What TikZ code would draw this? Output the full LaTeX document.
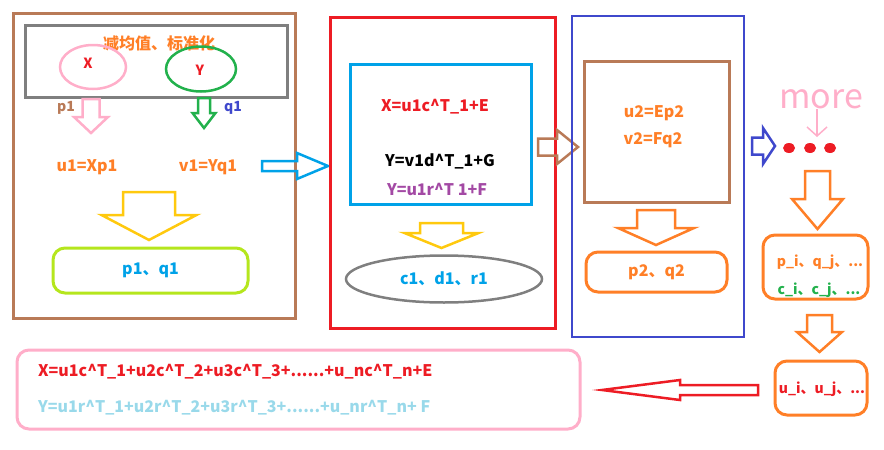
\documentclass[tikz,border=0pt]{standalone}
\usepackage{fontspec}
\setmainfont{Noto Sans CJK SC}
\usetikzlibrary{fit,shapes.geometric,arrows.meta}

\definecolor{brownc}{HTML}{B97A57}
\definecolor{grayc}{HTML}{7F7F7F}
\definecolor{orangec}{HTML}{FF7F27}
\definecolor{pinkc}{HTML}{FFAEC9}
\definecolor{redc}{HTML}{ED1C24}
\definecolor{greenc}{HTML}{22B14C}
\definecolor{indigoc}{HTML}{3F48CC}
\definecolor{cyanc}{HTML}{00A2E8}
\definecolor{goldc}{HTML}{FFC90E}
\definecolor{limec}{HTML}{B5E61D}
\definecolor{purplec}{HTML}{A349A4}
\definecolor{turqc}{HTML}{99D9EA}

\newcommand{\crt}{\textasciicircum}

% hollow arrow pointing down: colour, centre x, top, shaft half width, head y, head half width, tip y
\newcommand{\blockdown}[7]{%
  \draw[hollow, #1] (#2-#4,#3) -- (#2+#4,#3) -- (#2+#4,#5) -- (#2+#6,#5)
    -- (#2,#7) -- (#2-#6,#5) -- (#2-#4,#5) -- cycle;}
% hollow arrow left/right: colour, centre y, start x, shaft half height, head x, head half height, tip x
\newcommand{\blockhoriz}[7]{%
  \draw[hollow, #1] (#3,#2-#4) -- (#5,#2-#4) -- (#5,#2-#6) -- (#7,#2)
    -- (#5,#2+#6) -- (#5,#2+#4) -- (#3,#2+#4) -- cycle;}

\tikzset{
  boxframe/.style={draw, line width=3pt, inner sep=0pt},
  roundframe/.style={boxframe, rounded corners=12pt},
  oval/.style={ellipse, draw, line width=2.5pt, inner sep=0pt},
  hollow/.style={line width=2.5pt, line join=miter},
  lbl/.style={font=\bfseries\fontsize{16}{18}\selectfont, inner sep=1pt},
  smalllbl/.style={font=\bfseries\fontsize{14}{16}\selectfont, inner sep=1pt},
  dotmark/.style={ellipse, fill=redc, minimum width=12pt, minimum height=10pt, inner sep=0pt},
}

\begin{document}
\begin{tikzpicture}[x=1pt, y=-1pt]
  \useasboundingbox (0,0) rectangle (884,450);

  % Stage 1
  \node[boxframe, draw=brownc, fit={(13,13) (295,318)}] (stage1) {};
  \node[boxframe, draw=grayc, fit={(25,25) (287,97)}] (centre) {};
  \node[lbl, text=orangec] (centretitle) at (159,43) {减均值、标准化};
  \node[oval, draw=pinkc, minimum width=66pt, minimum height=44pt] (xoval) at (93,67) {};
  \node[oval, draw=greenc, minimum width=70pt, minimum height=45pt] (yoval) at (201,69) {};
  \node[smalllbl, text=redc] (xlbl) at (88,63) {X};
  \node[smalllbl, text=redc] (ylbl) at (200,70) {Y};
  \node[smalllbl, text=brownc] (p1lbl) at (66,108) {p1};
  \node[smalllbl, text=indigoc] (q1lbl) at (233,108) {q1};
  \blockdown{pinkc}{91}{99}{8.5}{117}{17}{133}
  \blockdown{greenc}{204}{98}{6}{113}{11.5}{128}
  \node[lbl, text=orangec] (u1) at (87,167) {u1=Xp1};
  \node[lbl, text=orangec] (v1) at (208,167) {v1=Yq1};
  \blockdown{goldc}{149}{192}{26}{215}{47.5}{240}
  \node[roundframe, draw=limec, fit={(53,248) (248,293)}] (pqone) {};
  \node[lbl, text=cyanc] at (pqone) {p1、q1};
  \blockhoriz{cyanc}{166}{262}{5}{297}{13}{328}

  % Stage 2
  \node[boxframe, draw=redc, fit={(330,17) (555,328)}] (stage2) {};
  \node[boxframe, draw=cyanc, fit={(350,64) (531,204)}] (eqbox) {};
  \node[lbl, text=redc] (eqx) at (435,107) {X=u1c\crt T\_1+E};
  \node[lbl, text=black] (eqy) at (440,161) {Y=v1d\crt T\_1+G};
  \node[lbl, text=purplec] (eqf) at (437,189) {Y=u1r\crt T 1+F};
  \blockdown{goldc}{441.5}{223}{21.5}{233}{37}{248}
  \node[oval, draw=grayc, minimum width=196pt, minimum height=47pt] (cdr) at (444,279) {};
  \node[lbl, text=cyanc] at (cdr) {c1、d1、r1};
  \blockhoriz{brownc}{147}{538}{8.5}{557}{17}{578}

  % Stage 3
  \node[boxframe, draw=indigoc, line width=2.5pt, fit={(572,16) (744,337)}] (stage3) {};
  \node[boxframe, draw=brownc, fit={(584,61) (729,202)}] (resid) {};
  \node[lbl, text=orangec] (u2) at (654,113) {u2=Ep2};
  \node[lbl, text=orangec] (v2) at (653,140) {v2=Fq2};
  \blockdown{orangec}{656}{210}{19}{228}{38}{245}
  \node[roundframe, draw=orangec, fit={(586,252) (727,292)}] (pqtwo) {};
  \node[lbl, text=orangec] at (pqtwo) {p2、q2};
  \blockhoriz{indigoc}{146}{752}{8.5}{763}{18}{775}

  % More rounds
  \foreach \dx/\n in {789/1,810/2,830/3}
    \node[dotmark] (dot\n) at (\dx,148) {};
  \node[text=pinkc, font=\fontsize{34}{36}\selectfont, inner sep=0pt] (more) at (821,99) {more};
  \coordinate (moretip) at (817,137);
  \draw[pinkc, line width=1.5pt, -{Straight Barb[length=9pt,width=20pt]}] (more.south -| moretip) -- (moretip);
  \blockdown{orangec}{817.5}{171}{12.5}{199}{25.5}{229}
  \node[roundframe, draw=orangec, fit={(763,235) (868,299)}] (pqi) {};
  \node[smalllbl, text=orangec] (pqitxt) at (820,262) {p\_i、q\_j、...};
  \node[smalllbl, text=greenc] (citxt) at (819,290) {c\_i、c\_j、...};
  \blockdown{orangec}{819.5}{315}{12.5}{332}{22.5}{352}
  \node[roundframe, draw=orangec, fit={(775,361) (867,415)}] (ui) {};
  \node[smalllbl, text=redc] (uitxt) at (822,389) {u\_i、u\_j、...};
  \blockhoriz{redc}{390}{758}{5}{680}{10}{602}

  % Result
  \node[roundframe, draw=pinkc, fit={(17,350) (580,429)}] (result) {};
  \node[lbl, text=redc, anchor=west] (sumx) at (37,372)
    {X=u1c\crt T\_1+u2c\crt T\_2+u3c\crt T\_3+......+u\_nc\crt T\_n+E};
  \node[lbl, text=turqc, anchor=west] (sumy) at (37,408)
    {Y=u1r\crt T\_1+u2r\crt T\_2+u3r\crt T\_3+......+u\_nr\crt T\_n+ F};
\end{tikzpicture}
\end{document}
